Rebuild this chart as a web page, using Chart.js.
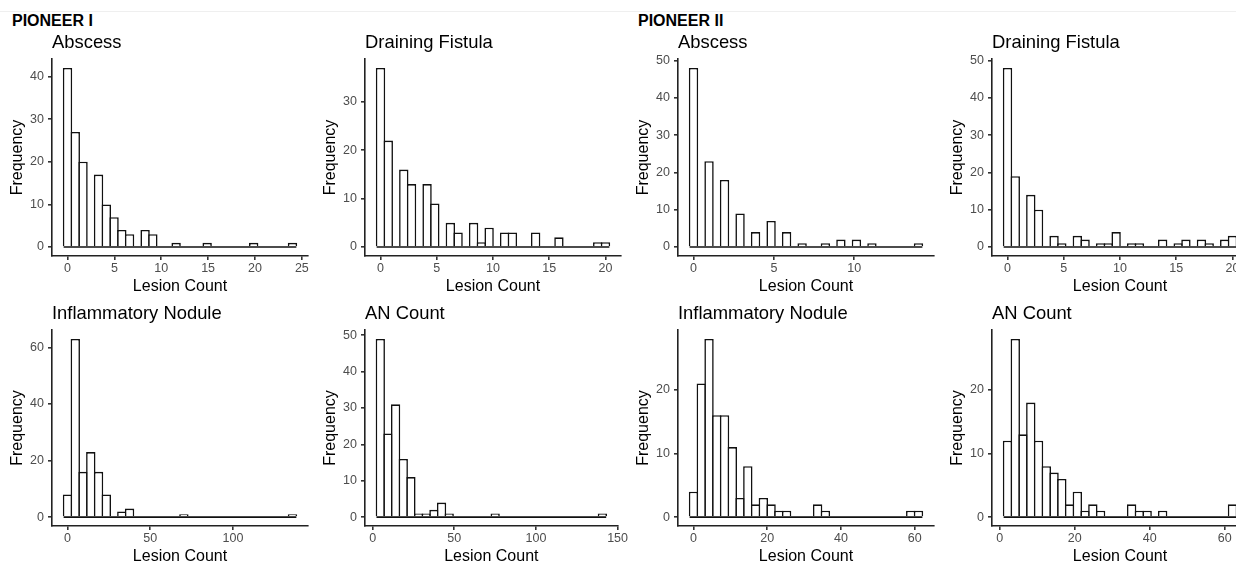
<!DOCTYPE html>
<html>
<head>
<meta charset="utf-8">
<script src="https://cdn.jsdelivr.net/npm/chart.js@4.4.0/dist/chart.umd.min.js"></script>
<style>
  html, body { margin: 0; padding: 0; background: #fff; }
  body { width: 1236px; height: 563px; overflow: hidden; position: relative; font-family: "Liberation Sans", Arial, sans-serif; }
  .topline { position: absolute; left: 0; top: 11px; width: 1236px; height: 1px; background: #efefef; }
  .study { position: absolute; font-weight: bold; font-size: 16px; line-height: 16px; color: #000; white-space: nowrap; }
  .panel { position: absolute; }
</style>
</head>
<body>
<div class="topline"></div>
<div class="study" style="left:12px;top:13px">PIONEER I</div>
<div class="study" style="left:638px;top:13px">PIONEER II</div>
<script>
// ===== data (30 bins per histogram) =====
// PIONEER I
const p1AbscessRange = [0, 24];
const p1AbscessCounts = [42, 27, 20, 0, 17, 10, 7, 4, 3, 0, 4, 3, 0, 0, 1, 0, 0, 0, 1, 0, 0, 0, 0, 0, 1, 0, 0, 0, 0, 1];
const p1AbscessXTicks = [0, 5, 10, 15, 20, 25];
const p1AbscessYTicks = [0, 10, 20, 30, 40];

const p1FistulaRange = [0, 20];
const p1FistulaCounts = [37, 22, 0, 16, 13, 0, 13, 9, 0, 5, 3, 0, 5, 1, 4, 0, 3, 3, 0, 0, 3, 0, 0, 2, 0, 0, 0, 0, 1, 1];
const p1FistulaXTicks = [0, 5, 10, 15, 20];
const p1FistulaYTicks = [0, 10, 20, 30];

const p1NoduleRange = [0, 136];
const p1NoduleCounts = [8, 63, 16, 23, 16, 8, 0, 2, 3, 0, 0, 0, 0, 0, 0, 1, 0, 0, 0, 0, 0, 0, 0, 0, 0, 0, 0, 0, 0, 1];
const p1NoduleXTicks = [0, 50, 100];
const p1NoduleYTicks = [0, 20, 40, 60];

const p1AnRange = [3, 139];
const p1AnCounts = [49, 23, 31, 16, 11, 1, 1, 2, 4, 1, 0, 0, 0, 0, 0, 1, 0, 0, 0, 0, 0, 0, 0, 0, 0, 0, 0, 0, 0, 1];
const p1AnXTicks = [0, 50, 100, 150];
const p1AnYTicks = [0, 10, 20, 30, 40, 50];

// PIONEER II
const p2AbscessRange = [0, 14];
const p2AbscessCounts = [48, 0, 23, 0, 18, 0, 9, 0, 4, 0, 7, 0, 4, 0, 1, 0, 0, 1, 0, 2, 0, 2, 0, 1, 0, 0, 0, 0, 0, 1];
const p2AbscessXTicks = [0, 5, 10];
const p2AbscessYTicks = [0, 10, 20, 30, 40, 50];

const p2FistulaRange = [0, 20];
const p2FistulaCounts = [48, 19, 0, 14, 10, 0, 3, 1, 0, 3, 2, 0, 1, 1, 4, 0, 1, 1, 0, 0, 2, 0, 1, 2, 0, 2, 1, 0, 2, 3];
const p2FistulaXTicks = [0, 5, 10, 15, 20];
const p2FistulaYTicks = [0, 10, 20, 30, 40, 50];

const p2NoduleRange = [0, 61];
const p2NoduleCounts = [4, 21, 28, 16, 16, 11, 3, 8, 2, 3, 2, 1, 1, 0, 0, 0, 2, 1, 0, 0, 0, 0, 0, 0, 0, 0, 0, 0, 1, 1];
const p2NoduleXTicks = [0, 20, 40, 60];
const p2NoduleYTicks = [0, 10, 20];

const p2AnRange = [3, 63];
const p2AnCounts = [12, 28, 13, 18, 12, 8, 7, 6, 2, 4, 1, 2, 1, 0, 0, 0, 2, 1, 1, 0, 1, 0, 0, 0, 0, 0, 0, 0, 0, 2];
const p2AnXTicks = [0, 20, 40, 60];
const p2AnYTicks = [0, 10, 20];

// ===== layout =====
const FONT = '"Liberation Sans", Arial, Helvetica, sans-serif';
const colLeft = [2, 315, 628, 942];   // canvas left per column
const rowTop = [27, 298];             // canvas top per row
const rowHeight = [271, 270];
const CANVAS_W = 314;
const BAR_W = 1.6;
const AXIS_W = 1.6;

const panels = [
  { title: "Abscess",             range: p1AbscessRange, counts: p1AbscessCounts, xTicks: p1AbscessXTicks, yTicks: p1AbscessYTicks, col: 0, row: 0 },
  { title: "Draining Fistula",    range: p1FistulaRange, counts: p1FistulaCounts, xTicks: p1FistulaXTicks, yTicks: p1FistulaYTicks, col: 1, row: 0 },
  { title: "Abscess",             range: p2AbscessRange, counts: p2AbscessCounts, xTicks: p2AbscessXTicks, yTicks: p2AbscessYTicks, col: 2, row: 0 },
  { title: "Draining Fistula",    range: p2FistulaRange, counts: p2FistulaCounts, xTicks: p2FistulaXTicks, yTicks: p2FistulaYTicks, col: 3, row: 0 },
  { title: "Inflammatory Nodule", range: p1NoduleRange,  counts: p1NoduleCounts,  xTicks: p1NoduleXTicks,  yTicks: p1NoduleYTicks,  col: 0, row: 1 },
  { title: "AN Count",            range: p1AnRange,      counts: p1AnCounts,      xTicks: p1AnXTicks,      yTicks: p1AnYTicks,      col: 1, row: 1 },
  { title: "Inflammatory Nodule", range: p2NoduleRange,  counts: p2NoduleCounts,  xTicks: p2NoduleXTicks,  yTicks: p2NoduleYTicks,  col: 2, row: 1 },
  { title: "AN Count",            range: p2AnRange,      counts: p2AnCounts,      xTicks: p2AnXTicks,      yTicks: p2AnYTicks,      col: 3, row: 1 }
];

// ggplot-style bins: width = range/(bins-1), boundary at width/2
function binLayout(range, n) {
  const w = (range[1] - range[0]) / (n - 1);
  const shift = Math.floor((range[0] - w / 2) / w);
  const origin = w / 2 + shift * w;
  const centers = [];
  for (let i = 0; i < n; i++) centers.push(origin + w * (i + 0.5));
  return { w, lo: origin, hi: origin + n * w, centers };
}

function fixedTicks(values) {
  return scale => { scale.ticks = values.map(v => ({ value: v })); };
}

function makePanel(p) {
  const canvas = document.createElement("canvas");
  canvas.className = "panel";
  canvas.width = CANVAS_W;
  canvas.height = rowHeight[p.row];
  canvas.style.left = colLeft[p.col] + "px";
  canvas.style.top = rowTop[p.row] + "px";
  document.body.appendChild(canvas);

  const bins = binLayout(p.range, p.counts.length);
  const xPad = 0.05 * (bins.hi - bins.lo);
  const yMax = Math.max(...p.counts);

  new Chart(canvas, {
    type: "bar",
    data: {
      datasets: [
        {
          // baseline: zero-count bins show as a flat outline at 0
          type: "line",
          data: [{ x: bins.lo, y: 0 }, { x: bins.hi, y: 0 }],
          borderColor: "#111",
          borderWidth: BAR_W,
          pointRadius: 0
        },
        {
          data: p.counts.map((c, i) => ({ x: bins.centers[i], y: c })),
          backgroundColor: "#fff",
          borderColor: "#111",
          borderWidth: BAR_W,
          borderSkipped: "start",
          inflateAmount: 0,
          categoryPercentage: 1,
          barPercentage: 1.21
        }
      ]
    },
    options: {
      responsive: false,
      animation: false,
      events: [],
      layout: { padding: { left: 0, right: 8, top: 0, bottom: 0 } },
      plugins: {
        legend: { display: false },
        tooltip: { enabled: false },
        title: {
          display: true,
          text: p.title,
          align: "start",
          fullSize: false,
          color: "#000",
          font: { family: FONT, size: 18.4, weight: "normal" },
          padding: { top: 4.92, bottom: 5 }
        }
      },
      scales: {
        x: {
          type: "linear",
          min: bins.lo - xPad,
          max: bins.hi + xPad,
          offset: false,
          afterBuildTicks: fixedTicks(p.xTicks),
          afterFit: s => { s.height = 42; },
          grid: { display: true, offset: false, drawOnChartArea: false, drawTicks: true, tickLength: 4, color: "#333", lineWidth: AXIS_W },
          border: { display: true, color: "#222", width: AXIS_W },
          ticks: { color: "#4d4d4d", font: { family: FONT, size: 12.5 }, padding: 1, maxRotation: 0, autoSkip: false, callback: v => String(v) },
          title: { display: true, text: "Lesion Count", color: "#000", font: { family: FONT, size: 16 }, padding: { top: 0, bottom: 1.7 } }
        },
        y: {
          type: "linear",
          min: -0.05 * yMax,
          max: 1.05 * yMax,
          afterBuildTicks: fixedTicks(p.yTicks),
          afterFit: s => { s.width = 50; },
          grid: { display: true, drawOnChartArea: false, drawTicks: true, tickLength: 4, color: "#333", lineWidth: AXIS_W },
          border: { display: true, color: "#222", width: AXIS_W },
          ticks: { color: "#4d4d4d", font: { family: FONT, size: 12.5 }, padding: 4, autoSkip: false, callback: v => String(v) },
          title: { display: true, text: "Frequency", color: "#000", font: { family: FONT, size: 16 }, padding: { top: 5.9, bottom: 0 } }
        }
      }
    }
  });
}

panels.forEach(makePanel);
</script>
</body>
</html>
